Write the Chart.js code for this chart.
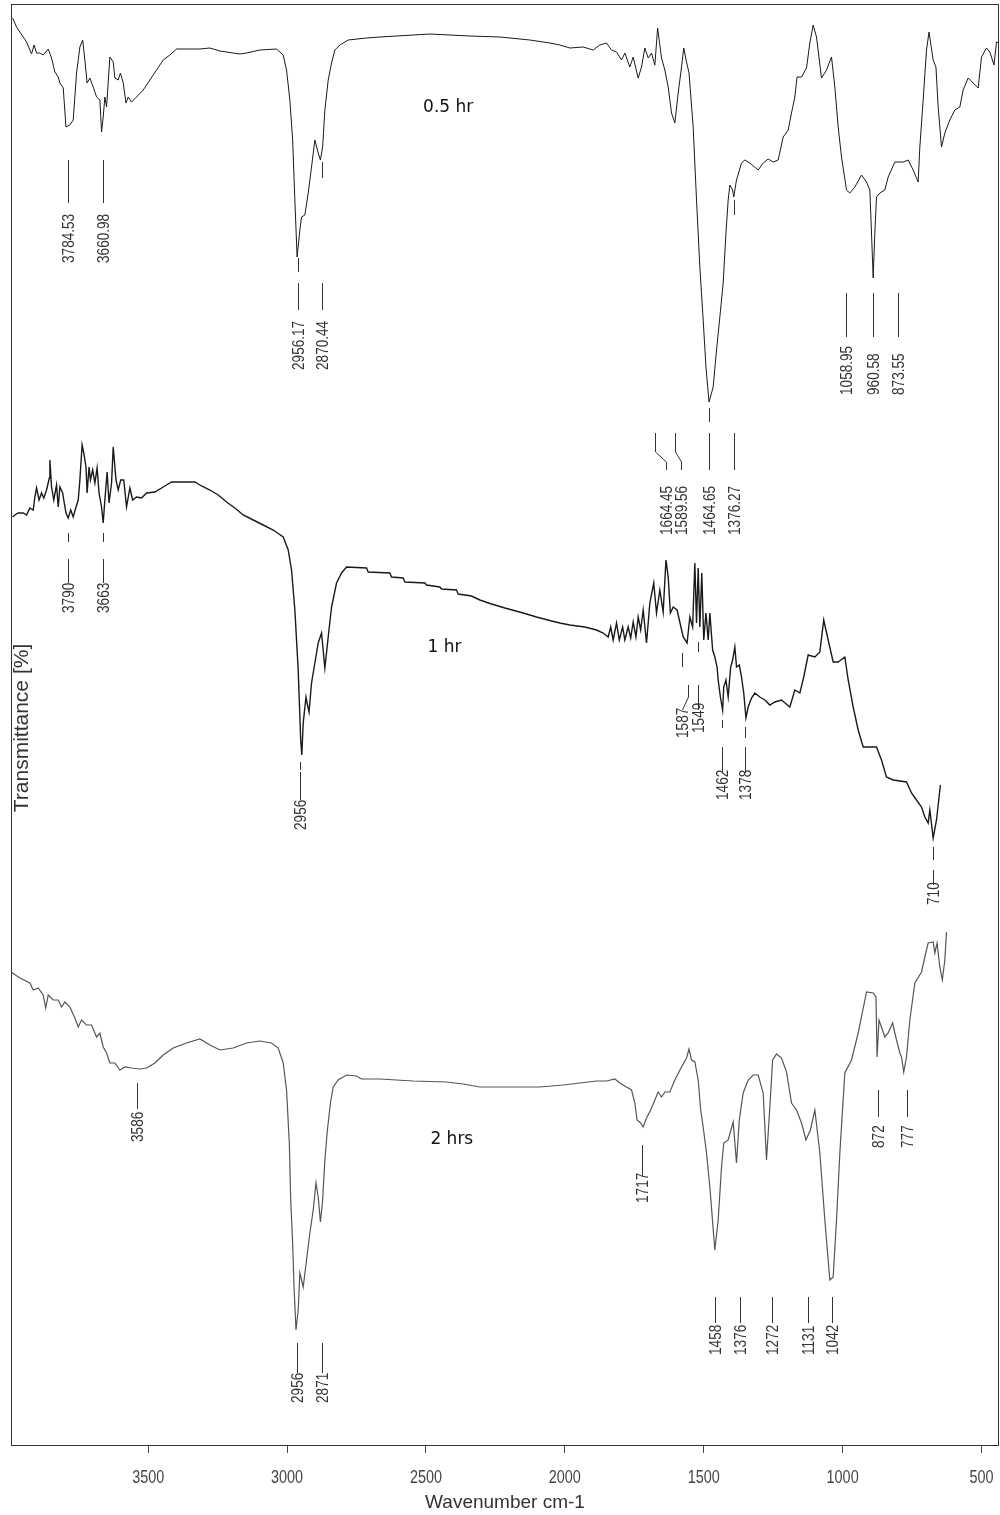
<!DOCTYPE html>
<html lang="en">
<head>
<meta charset="UTF-8">
<title>FTIR spectra</title>
<script src="https://cdn.jsdelivr.net/npm/chart.js@4.4.1/dist/chart.umd.min.js"></script>
<style>
  html, body { margin: 0; padding: 0; background: #fff; }
  canvas { display: block; }
</style>
</head>
<body>
<canvas id="ftir" width="1000" height="1515"></canvas>
<script>
// wavenumber (cm-1), offset transmittance
const spec05 = [
  [3988,142.7],[3974,141.8],[3950,140.8],[3938,140.3],[3920,139.1],[3911,140.0],[3902,139.2],[3890,139.2],
  [3878,139.0],[3860,139.6],[3848,138.7],[3836,137.3],[3824,136.8],[3818,136.2],[3806,135.7],[3796,131.8],
  [3782,132.0],[3770,132.5],[3758,137.2],[3746,139.8],[3736,140.5],[3728,138.5],[3720,136.2],[3710,136.7],
  [3698,135.8],[3686,134.8],[3674,134.5],[3668,131.3],[3662,132.8],[3656,134.8],[3650,133.8],[3638,138.8],
  [3626,138.3],[3620,136.7],[3608,136.5],[3600,137.2],[3590,136.2],[3580,134.2],[3572,134.8],[3560,134.3],
  [3542,134.8],[3518,135.5],[3494,136.5],[3470,137.5],[3446,138.5],[3422,139.0],[3398,139.6],[3362,139.6],
  [3314,139.6],[3278,139.7],[3242,139.4],[3194,139.2],[3170,139.1],[3146,139.2],[3098,139.5],[3038,139.6],
  [3014,139.0],[3002,137.5],[2990,134.5],[2980,130.5],[2972,124.5],[2964,118.8],[2954,121.5],[2948,122.8],
  [2936,123.0],[2924,125.2],[2912,127.8],[2900,130.5],[2888,129.2],[2880,128.5],[2872,129.8],[2864,133.5],
  [2852,136.5],[2840,138.2],[2828,139.5],[2810,140.0],[2780,140.5],[2714,140.7],[2666,140.8],[2486,141.1],
  [2342,140.9],[2234,140.8],[2126,140.5],[2054,140.2],[2018,140.0],[1982,139.7],[1934,139.8],[1898,139.5],
  [1874,140.0],[1850,140.2],[1832,139.5],[1814,139.3],[1796,138.5],[1784,139.2],[1766,137.8],[1754,138.8],
  [1736,136.7],[1724,137.8],[1712,139.7],[1700,138.7],[1688,139.2],[1676,138.0],[1666,141.7],[1652,138.7],
  [1640,137.5],[1628,135.8],[1616,133.2],[1604,132.2],[1592,135.2],[1580,137.8],[1572,139.7],[1562,138.3],
  [1553,137.2],[1538,131.8],[1526,124.5],[1514,117.8],[1502,112.5],[1492,107.8],[1481,104.3],[1466,105.8],
  [1454,109.5],[1442,112.8],[1430,116.2],[1420,121.2],[1412,124.5],[1406,126.0],[1396,125.5],[1392,124.8],
  [1382,126.5],[1364,128.2],[1352,128.5],[1334,128.2],[1304,127.5],[1286,128.2],[1268,128.6],[1250,128.3],
  [1232,128.5],[1214,130.8],[1196,131.5],[1184,133.2],[1172,134.8],[1164,136.8],[1148,136.8],[1130,137.7],
  [1118,140.2],[1106,142.0],[1094,140.8],[1076,136.7],[1058,137.5],[1040,138.8],[1028,135.8],[1016,131.8],
  [1004,128.8],[986,125.5],[974,125.2],[956,125.8],[932,127.0],[914,126.3],[902,125.5],[896,121.2],
  [890,116.7],[884,121.2],[878,124.8],[866,125.2],[848,125.5],[836,126.8],[812,128.3],[782,128.3],
  [764,128.5],[746,127.5],[728,126.3],[722,129.8],[710,134.5],[698,139.5],[689,141.3],[674,138.5],
  [664,137.8],[656,133.8],[644,129.8],[632,131.2],[614,132.5],[596,133.5],[578,133.8],[566,135.5],
  [548,136.7],[530,136.2],[512,135.7],[500,138.8],[482,139.7],[470,139.3],[455,138.0],[446,140.3],[437,140.2]
];

const spec1 = [
  [3988,92.8],[3980,93.0],[3968,93.2],[3950,93.2],[3938,93.0],[3926,93.7],[3914,93.5],[3908,94.8],
  [3902,95.7],[3893,94.5],[3884,95.2],[3876,94.7],[3866,95.5],[3856,96.7],[3854,98.5],[3848,95.8],
  [3840,94.5],[3830,96.0],[3824,93.8],[3818,95.8],[3808,95.2],[3804,94.5],[3796,93.2],[3788,92.7],
  [3779,93.5],[3770,92.8],[3760,93.8],[3752,94.5],[3746,96.5],[3738,100.0],[3732,99.2],[3724,97.8],
  [3720,95.2],[3713,97.8],[3708,96.5],[3700,97.5],[3692,96.2],[3684,97.7],[3677,95.2],[3668,93.8],
  [3662,92.2],[3656,94.5],[3648,97.3],[3641,94.2],[3632,96.2],[3626,99.8],[3616,96.5],[3608,95.5],
  [3599,96.5],[3588,96.5],[3578,93.8],[3566,95.7],[3556,94.5],[3542,94.8],[3524,94.7],[3506,95.2],
  [3476,95.3],[3446,95.8],[3416,96.3],[3332,96.3],[3308,95.9],[3278,95.5],[3248,95.0],[3218,94.3],
  [3188,93.7],[3158,93.0],[3122,92.5],[3086,92.0],[3050,91.5],[3014,90.8],[2996,89.5],[2984,87.5],
  [2972,83.5],[2960,77.5],[2951,70.5],[2947,69.0],[2942,72.2],[2932,74.8],[2928,74.2],[2921,73.3],
  [2912,76.2],[2900,78.2],[2888,80.2],[2876,81.2],[2864,77.7],[2852,80.8],[2840,83.8],[2822,86.2],
  [2804,87.2],[2786,87.8],[2714,87.7],[2708,87.3],[2630,87.2],[2624,86.8],[2582,86.7],[2576,86.3],
  [2504,86.2],[2498,86.0],[2450,85.8],[2444,85.6],[2390,85.5],[2384,85.1],[2336,84.9],[2306,84.5],
  [2264,84.1],[2216,83.7],[2150,83.2],[2102,82.8],[2048,82.4],[2018,82.2],[1982,82.0],[1928,81.8],
  [1886,81.5],[1862,81.2],[1844,80.8],[1835,81.8],[1826,80.5],[1814,82.2],[1804,80.5],[1792,81.8],
  [1784,80.5],[1772,81.8],[1763,80.7],[1754,82.3],[1744,80.8],[1736,82.8],[1727,81.5],[1718,83.5],
  [1706,80.2],[1694,84.2],[1680,86.2],[1670,83.2],[1658,85.5],[1646,83.3],[1636,88.5],[1628,86.8],
  [1620,83.2],[1610,83.8],[1596,83.5],[1574,80.8],[1560,80.2],[1550,82.8],[1540,81.8],[1532,88.2],
  [1526,82.2],[1520,87.7],[1514,81.8],[1507,87.2],[1500,80.5],[1492,83.2],[1484,80.5],[1478,83.2],
  [1468,79.5],[1460,78.8],[1452,77.8],[1448,76.5],[1440,74.8],[1432,73.5],[1428,75.8],[1420,76.5],
  [1412,74.8],[1403,77.8],[1396,78.5],[1388,79.8],[1382,77.8],[1372,78.0],[1364,76.8],[1356,75.2],
  [1348,72.7],[1340,73.8],[1328,74.7],[1316,75.2],[1298,74.8],[1280,74.5],[1262,74.0],[1244,74.3],
  [1220,74.5],[1190,73.8],[1172,75.5],[1154,75.2],[1140,76.8],[1124,79.0],[1100,78.8],[1082,79.3],
  [1068,82.5],[1052,80.5],[1034,78.3],[1016,78.3],[992,78.8],[980,76.5],[962,73.8],[944,71.5],
  [926,69.8],[878,69.8],[860,68.5],[842,66.8],[818,66.5],[770,66.3],[752,65.2],[734,64.5],
  [716,63.8],[704,62.8],[692,62.2],[686,63.5],[674,60.7],[662,62.5],[648,66.0]
];

const spec2 = [
  [3994,47.3],[3962,46.7],[3926,46.2],[3914,45.5],[3896,45.7],[3878,45.0],[3869,43.7],[3860,45.0],
  [3842,44.5],[3824,44.5],[3812,43.8],[3800,44.3],[3782,43.8],[3764,42.7],[3752,41.8],[3740,42.5],
  [3722,42.0],[3704,42.0],[3686,40.8],[3674,41.2],[3662,39.8],[3650,39.2],[3638,38.2],[3620,38.2],
  [3602,37.5],[3584,37.8],[3560,37.7],[3530,37.6],[3506,37.7],[3476,38.2],[3446,39.0],[3410,39.7],
  [3362,40.2],[3314,40.6],[3278,40.0],[3242,39.5],[3194,39.7],[3146,40.2],[3098,40.4],[3056,40.2],
  [3032,39.7],[3014,38.2],[3002,35.5],[2992,30.2],[2987,24.5],[2980,20.2],[2975,15.8],[2968,11.5],
  [2960,13.5],[2954,17.2],[2942,15.8],[2930,18.5],[2918,21.2],[2906,23.5],[2896,26.2],[2888,24.8],
  [2880,22.3],[2872,24.5],[2864,28.5],[2856,31.2],[2844,34.2],[2834,35.8],[2816,36.5],[2786,37.0],
  [2750,36.9],[2732,36.6],[2666,36.6],[2546,36.4],[2426,36.3],[2366,36.1],[2306,35.8],[2186,35.8],
  [2090,35.8],[2006,36.0],[1946,36.2],[1886,36.4],[1850,36.4],[1820,36.6],[1802,36.2],[1778,35.8],
  [1760,35.5],[1748,34.2],[1740,32.5],[1727,32.2],[1718,31.8],[1706,32.7],[1691,33.5],[1676,34.5],
  [1664,35.3],[1652,34.8],[1640,35.3],[1622,35.3],[1604,36.5],[1580,37.8],[1562,38.7],[1553,39.6],
  [1544,38.5],[1532,38.3],[1520,36.5],[1511,33.5],[1502,31.8],[1490,29.2],[1478,25.8],[1460,19.5],
  [1448,22.5],[1436,27.8],[1428,30.2],[1412,30.5],[1394,32.3],[1382,28.2],[1372,32.5],[1358,35.2],
  [1340,36.5],[1322,37.0],[1304,37.0],[1286,35.2],[1274,28.5],[1262,33.8],[1252,38.5],[1238,39.1],
  [1220,38.7],[1202,37.3],[1184,34.2],[1166,33.5],[1148,32.2],[1132,30.5],[1116,31.5],[1100,33.5],
  [1082,29.2],[1064,22.5],[1046,16.5],[1034,16.8],[1022,22.5],[1010,29.2],[992,37.2],[968,38.5],
  [944,41.2],[914,45.3],[890,45.2],[880,44.8],[876,38.8],[869,42.5],[848,40.8],[836,41.2],
  [820,42.2],[806,40.5],[794,39.2],[788,38.8],[780,37.3],[770,38.8],[758,42.5],[740,46.2],
  [716,47.3],[704,48.8],[692,50.2],[674,50.3],[668,49.2],[660,50.2],[650,47.8],[641,46.5],
  [632,48.5],[626,51.3]
];

const xTicks = [3500, 3000, 2500, 2000, 1500, 1000, 500];
const seriesNames = ['0.5 hr', '1 hr', '2 hrs'];

// peak labels: text, where it sits on the axis, and its leader line
const peakMarks = [
  { t: '3784.53', x: 3787, line: [128.5, 124.2], text: 118.2 },
  { t: '3660.98', x: 3664, line: [128.5, 124.2], text: 118.2 },
  { t: '2956.17', x: 2961, dash: [118.7, 117.3], line: [116.2, 113.5], text: 107.5 },
  { t: '2870.44', x: 2875, dash: [128.3, 126.7], line: [116.2, 113.5], text: 107.5 },
  { t: '1058.95', x: 988, line: [115.2, 110.8], text: 105.0 },
  { t: '960.58', x: 891, line: [115.2, 110.8], text: 105.0 },
  { t: '873.55', x: 801, line: [115.2, 110.8], text: 105.0 },
  { t: '1664.45', x: 1636, path: [[1676, 101.2], [1676, 99.3], [1636, 98.3], [1636, 97.5]], text: 91.0 },
  { t: '1589.56', x: 1581, path: [[1604, 101.2], [1604, 99.3], [1581, 98.3], [1581, 97.5]], text: 91.0 },
  { t: '1464.65', x: 1481, dash: [103.7, 102.3], line: [101.2, 97.5], text: 91.0 },
  { t: '1376.27', x: 1392, dash: [124.5, 123.0], line: [101.2, 97.5], text: 91.0 },

  { t: '3790', x: 3788, dash: [91.2, 90.3], line: [88.6, 86.2], text: 83.2 },
  { t: '3663', x: 3663, dash: [91.2, 90.3], line: [88.6, 86.2], text: 83.2 },
  { t: '2956', x: 2954, dash: [68.3, 67.5], line: [67.3, 64.5], text: 61.5 },
  { t: '1587', x: 1579, dash: [79.2, 77.8], path: [[1558, 76.0], [1558, 74.8], [1579, 73.5]], text: 70.7 },
  { t: '1549', x: 1522, dash: [80.3, 79.3], line: [76.0, 73.5], text: 71.2 },
  { t: '1462', x: 1434, dash: [72.5, 71.7], line: [69.8, 67.2], text: 64.5 },
  { t: '1378', x: 1352, dash: [71.8, 70.7], line: [69.8, 67.2], text: 64.5 },
  { t: '710', x: 676, dash: [59.8, 58.5], line: [57.5, 56.0], text: 54.0 },

  { t: '3586', x: 3542, line: [36.2, 33.6], text: 30.3 },
  { t: '2956', x: 2966, line: [10.2, 7.2], text: 4.2 },
  { t: '2871', x: 2873, line: [10.2, 7.2], text: 4.2 },
  { t: '1717', x: 1724, line: [30.0, 26.9], text: 24.2 },
  { t: '872', x: 872, line: [35.5, 32.8], text: 29.7 },
  { t: '777', x: 768, line: [35.5, 32.8], text: 29.7 },
  { t: '1458', x: 1460, line: [14.8, 12.2], text: 9.0 },
  { t: '1376', x: 1371, line: [14.8, 12.2], text: 9.0 },
  { t: '1272', x: 1255, line: [14.8, 12.2], text: 9.0 },
  { t: '1131', x: 1123, line: [14.8, 12.2], text: 9.0 },
  { t: '1042', x: 1039, line: [14.8, 12.2], text: 9.0 }
];

const nameSpots = [[2420, 133.7], [2433, 79.7], [2407, 30.5]];

function hasFont(name) {
  const c = document.createElement('canvas').getContext('2d');
  c.font = '20px monospace';
  const a = c.measureText('0123456789').width;
  c.font = "20px '" + name + "', monospace";
  return Math.abs(c.measureText('0123456789').width - a) > 1;
}
const narrow = hasFont('Liberation Sans Narrow');
const numFamily = narrow ? "'Liberation Sans Narrow'" : "'Liberation Sans'";
const numSqueeze = narrow ? 1 : 0.8;

const toXY = s => s.map(p => ({ x: p[0], y: p[1] }));

const decorations = {
  id: 'decorations',
  afterDatasetsDraw(chart) {
    const { ctx, chartArea: a, scales: { x, y } } = chart;
    ctx.save();
    // frame
    ctx.strokeStyle = '#333';
    ctx.lineWidth = 1;
    ctx.strokeRect(a.left + 0.5, a.top + 0.5, a.right - a.left - 1, a.bottom - a.top);

    // x tick labels (drawn here so the narrow face can be squeezed when needed)
    ctx.fillStyle = '#444';
    ctx.textAlign = 'center';
    ctx.textBaseline = 'middle';
    xTicks.forEach(v => {
      ctx.save();
      ctx.translate(x.getPixelForValue(v), a.bottom + 33);
      ctx.scale(numSqueeze, 1);
      ctx.font = '18px ' + numFamily;
      ctx.fillText(String(v), 0, 0);
      ctx.restore();
    });

    // peak leaders and labels
    ctx.strokeStyle = '#333';
    ctx.fillStyle = '#333';
    ctx.lineWidth = 1;
    peakMarks.forEach(m => {
      const px = Math.round(x.getPixelForValue(m.x)) + 0.5;
      ctx.beginPath();
      if (m.dash) {
        ctx.moveTo(px, y.getPixelForValue(m.dash[0]));
        ctx.lineTo(px, y.getPixelForValue(m.dash[1]));
      }
      if (m.line) {
        ctx.moveTo(px, y.getPixelForValue(m.line[0]));
        ctx.lineTo(px, y.getPixelForValue(m.line[1]));
      }
      if (m.path) {
        m.path.forEach((p, i) => {
          const qx = Math.round(x.getPixelForValue(p[0])) + 0.5;
          const qy = y.getPixelForValue(p[1]);
          if (i === 0) ctx.moveTo(qx, qy); else ctx.lineTo(qx, qy);
        });
      }
      ctx.stroke();
      ctx.save();
      ctx.translate(px + 1, y.getPixelForValue(m.text));
      ctx.rotate(-Math.PI / 2);
      ctx.scale(numSqueeze, 1);
      ctx.font = '17px ' + numFamily;
      ctx.textAlign = 'left';
      ctx.textBaseline = 'middle';
      ctx.fillText(m.t, 0, 0);
      ctx.restore();
    });

    // series names
    ctx.fillStyle = '#111';
    ctx.font = "17px 'DejaVu Sans'";
    ctx.textAlign = 'center';
    ctx.textBaseline = 'middle';
    seriesNames.forEach((n, i) => {
      ctx.fillText(n, x.getPixelForValue(nameSpots[i][0]), y.getPixelForValue(nameSpots[i][1]));
    });

    // y axis title, sitting just inside the frame
    ctx.save();
    ctx.translate(a.left + 11, y.getPixelForValue(71.7));
    ctx.rotate(-Math.PI / 2);
    ctx.font = "21px 'Liberation Sans'";
    ctx.fillStyle = '#333';
    ctx.fillText('Transmittance [%]', 0, 0);
    ctx.restore();
    ctx.restore();
  }
};

new Chart(document.getElementById('ftir'), {
  type: 'line',
  data: {
    datasets: [
      { label: seriesNames[0], data: toXY(spec05), borderColor: '#1a1a1a', borderWidth: 1 },
      { label: seriesNames[1], data: toXY(spec1), borderColor: '#1a1a1a', borderWidth: 1.4 },
      { label: seriesNames[2], data: toXY(spec2), borderColor: '#555', borderWidth: 1.2 }
    ]
  },
  options: {
    responsive: false,
    animation: false,
    events: [],
    layout: { padding: { left: 11, right: 1, top: 4, bottom: 0 } },
    elements: { point: { radius: 0 }, line: { tension: 0 } },
    plugins: { legend: { display: false }, tooltip: { enabled: false } },
    scales: {
      x: {
        type: 'linear',
        reverse: true,
        min: 437,
        max: 3994,
        afterBuildTicks: s => { s.ticks = xTicks.map(v => ({ value: v })); },
        afterFit: s => { s.height = 70; s.paddingLeft = 0; s.paddingRight = 0; },
        border: { display: false },
        grid: { drawOnChartArea: false, drawTicks: true, tickLength: 8, color: '#444' },
        ticks: { display: false },
        title: {
          display: true,
          text: 'Wavenumber cm-1',
          color: '#333',
          font: { family: "'Liberation Sans'", size: 19 },
          padding: { top: 0, bottom: 1 }
        }
      },
      y: { display: false, min: 0, max: 144.1 }
    }
  },
  plugins: [decorations]
});
</script>
</body>
</html>
